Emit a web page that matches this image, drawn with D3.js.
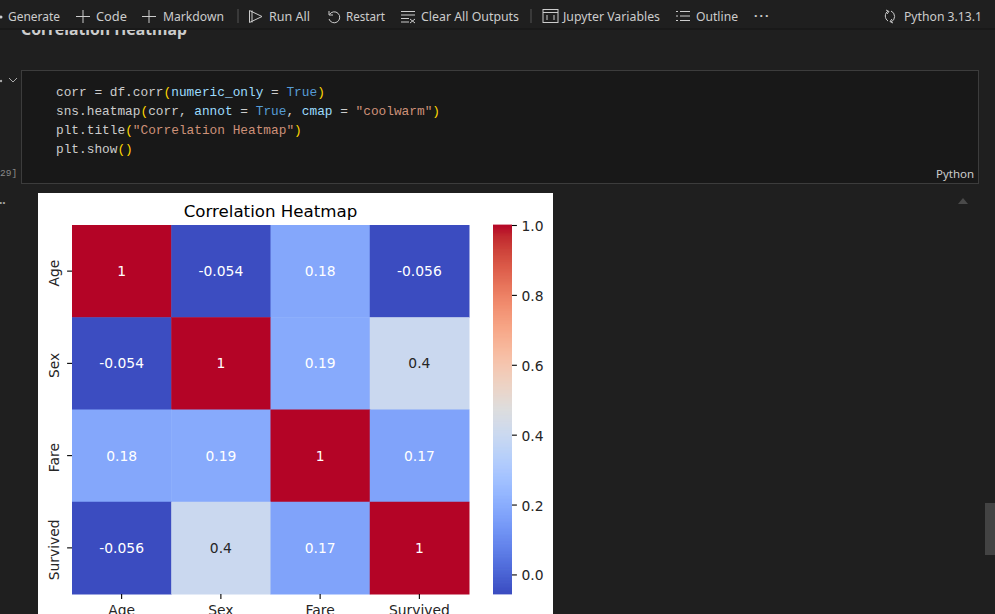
<!DOCTYPE html>
<html>
<head>
<meta charset="utf-8">
<script src="https://cdn.jsdelivr.net/npm/d3@7"></script>
<style>
html, body { margin: 0; padding: 0; background: #1f1f1f; overflow: hidden; }
svg { display: block; }
.mpl text { font-family: "DejaVu Sans", sans-serif; fill: #262626; }
.ui { font-family: "Noto Sans", "Open Sans", sans-serif; font-size: 12.5px; fill: #cccccc; }
.code { font-family: "Liberation Mono", monospace; font-size: 12.8px; fill: #cccccc; }
</style>
</head>
<body>
<script>
// chart values
var categories = ['Age', 'Sex', 'Fare', 'Survived'];
var corrValues = [
    [1, -0.054, 0.18, -0.056],
    [-0.054, 1, 0.19, 0.4],
    [0.18, 0.19, 1, 0.17],
    [-0.056, 0.4, 0.17, 1]
];
var colorbarTicks = [0, 0.2, 0.4, 0.6, 0.8, 1];
var chartTitle = 'Correlation Heatmap';

// coolwarm stops, evenly spaced
var coolwarm = ['#3b4cc0', '#445acc', '#4d68d7', '#5775e1', '#6282ea', '#6c8ef1', '#779af7', '#82a5fb',
    '#8db0fe', '#98b9ff', '#a3c2ff', '#aec9fd', '#b8d0f9', '#c2d5f4', '#ccd9ee', '#d5dbe6',
    '#dddddd', '#e5d8d1', '#ecd3c5', '#f1ccb9', '#f5c4ad', '#f7bba0', '#f7b194', '#f7a687',
    '#f49a7b', '#f18d6f', '#ec7f63', '#e57058', '#de604d', '#d55042', '#cb3e38', '#c0282f', '#b40426'];

// notebook chrome text
var toolbarLabels = ['Generate', 'Code', 'Markdown', 'Run All', 'Restart', 'Clear All Outputs', 'Jupyter Variables', 'Outline', 'Python 3.13.1'];
var toolbarX = [8, 96, 163, 269, 346, 421, 563, 696, 904];
var toolbarW = [52, 31, 61, 41, 39, 98, 97, 42, 78];
var codeLines = [
    [['corr = df.corr', '#cccccc'], ['(', '#ffd700'], ['numeric_only', '#9cdcfe'], [' = ', '#cccccc'], ['True', '#569cd6'], [')', '#ffd700']],
    [['sns.heatmap', '#cccccc'], ['(', '#ffd700'], ['corr, ', '#cccccc'], ['annot', '#9cdcfe'], [' = ', '#cccccc'], ['True', '#569cd6'], [', ', '#cccccc'], ['cmap', '#9cdcfe'], [' = ', '#cccccc'], ['"coolwarm"', '#ce9178'], [')', '#ffd700']],
    [['plt.title', '#cccccc'], ['(', '#ffd700'], ['"Correlation Heatmap"', '#ce9178'], [')', '#ffd700']],
    [['plt.show', '#cccccc'], ['()', '#ffd700']]
];

var svg = d3.select('body').append('svg').attr('width', 995).attr('height', 614);

svg.append('rect').attr('width', 995).attr('height', 614).attr('fill', '#1f1f1f');

// heading hidden behind the toolbar
svg.append('text').attr('x', 21).attr('y', 35)
    .attr('font-family', '"Noto Sans", sans-serif').attr('font-size', 15.8).attr('font-weight', 700)
    .attr('fill', '#cccccc').text(chartTitle);

// toolbar
svg.append('rect').attr('width', 995).attr('height', 28).attr('fill', '#1f1f1f');
svg.append('rect').attr('y', 28).attr('width', 995).attr('height', 2).attr('fill', '#191919');
svg.selectAll('.tb').data(toolbarLabels).enter().append('text')
    .attr('class', 'ui tb')
    .attr('x', function (d, i) { return toolbarX[i]; })
    .attr('y', 21)
    .attr('textLength', function (d, i) { return toolbarW[i]; })
    .attr('lengthAdjust', 'spacingAndGlyphs')
    .text(function (d) { return d; });

var icons = svg.append('g').attr('fill', 'none').attr('stroke', '#cccccc').attr('stroke-width', 1);
icons.append('path').attr('d', 'M83 10V23M76 16.5H90M149 10V23M142 16.5H156');
icons.append('path').attr('d', 'M238 9V23M531 9V23').attr('stroke', '#555555');
icons.append('path').attr('d', 'M249.5 10.5V22.5L262 16.5ZM252 10.5V22.5');
icons.append('path').attr('d', 'M329 11V15H333M329.5 14.5A5.5 5.5 0 1 1 329 19');
icons.append('path').attr('d', 'M401 11.5H415M401 15H415M401 18.5H409M401 22H409M410 19L415 23M415 19L410 23');
icons.append('rect').attr('x', 543).attr('y', 9.5).attr('width', 15).attr('height', 13);
icons.append('path').attr('d', 'M543 12.5H558M547 15V20M554 15V20');
icons.append('path').attr('d', 'M680 11.5H690M680 16H690M680 20.5H690M676 11.5H678M676 16H678M676 20.5H678');
icons.append('path').attr('d', 'M888 11A6 6 0 0 0 888 21M891 22A6 6 0 0 0 891 11M886 10L889 11.5L887 14M893 23L890 21.5L892 19');
svg.append('text').attr('class', 'ui').attr('x', 754).attr('y', 20).attr('font-weight', 700)
    .style('letter-spacing', '2px').text('···');
svg.append('circle').attr('cx', 1).attr('cy', 17).attr('r', 1.5).attr('fill', '#cccccc');

// code cell
svg.append('rect').attr('x', 21.5).attr('y', 70.5).attr('width', 957).attr('height', 113)
    .attr('fill', '#181818').attr('stroke', '#3c3c3c');
var codeText = svg.selectAll('.code').data(codeLines).enter().append('text')
    .attr('class', 'code')
    .attr('x', 56)
    .attr('y', function (d, i) { return 95.6 + i * 19; })
    .style('white-space', 'pre');
codeText.selectAll('tspan').data(function (d) { return d; }).enter().append('tspan')
    .attr('fill', function (d) { return d[1]; })
    .text(function (d) { return d[0]; });
svg.append('text').attr('class', 'ui').attr('x', 936).attr('y', 178)
    .style('font-size', '11.5px').text('Python');
svg.append('text').attr('x', 0).attr('y', 176).attr('font-family', '"Liberation Mono", monospace')
    .attr('font-size', 9.5).attr('fill', '#8a8a8a').text('29]');
svg.append('path').attr('d', 'M9 78L13 82L17 78').attr('fill', 'none').attr('stroke', '#aaaaaa');
svg.append('circle').attr('cx', 1).attr('cy', 81).attr('r', 1.2).attr('fill', '#aaaaaa');
svg.append('text').attr('x', -1).attr('y', 204).attr('font-family', '"Noto Sans", sans-serif')
    .attr('font-size', 12).attr('font-weight', 700).attr('fill', '#aaaaaa').text('..');
svg.append('path').attr('d', 'M958 204L963 198L968 204Z').attr('fill', '#4a4a4a');
svg.append('rect').attr('x', 985).attr('y', 503).attr('width', 10).attr('height', 52).attr('fill', '#434343');

// matplotlib figure
var fig = svg.append('g').attr('class', 'mpl');
fig.append('rect').attr('x', 38).attr('y', 193).attr('width', 515).attr('height', 421).attr('fill', '#ffffff');

var x = d3.scaleBand().domain(categories).range([72, 469]);
var y = d3.scaleBand().domain(categories).range([225, 594]);
var vmin = d3.min(corrValues, function (r) { return d3.min(r); });
var vmax = d3.max(corrValues, function (r) { return d3.max(r); });
var colorRamp = d3.scaleLinear()
    .domain(coolwarm.map(function (c, i) { return i / (coolwarm.length - 1); }))
    .range(coolwarm);
var color = d3.scaleSequential(colorRamp).domain([vmin, vmax]);

var cells = [];
corrValues.forEach(function (row, i) {
    row.forEach(function (v, j) {
        cells.push({row: categories[i], col: categories[j], value: v});
    });
});

fig.selectAll('.cell').data(cells).enter().append('rect')
    .attr('class', 'cell')
    .attr('x', function (d) { return x(d.col); })
    .attr('y', function (d) { return y(d.row); })
    .attr('width', x.bandwidth() + 0.5)
    .attr('height', y.bandwidth() + 0.5)
    .attr('fill', function (d) { return color(d.value); });

fig.selectAll('.annot').data(cells).enter().append('text')
    .attr('class', 'annot')
    .attr('x', function (d) { return x(d.col) + x.bandwidth() / 2; })
    .attr('y', function (d) { return y(d.row) + y.bandwidth() / 2; })
    .attr('dy', '0.36em')
    .attr('text-anchor', 'middle')
    .attr('font-size', 13.89)
    .style('fill', function (d) { return d.value > 0.3 && d.value < 0.7 ? '#262626' : '#ffffff'; })
    .text(function (d) { return d.value; });

var xAxis = fig.append('g').attr('transform', 'translate(0,594)')
    .call(d3.axisBottom(x).tickSize(4.9).tickSizeOuter(0));
var yAxis = fig.append('g').attr('transform', 'translate(72,0)')
    .call(d3.axisLeft(y).tickSize(4.9).tickSizeOuter(0));
[xAxis, yAxis].forEach(function (a) {
    a.select('.domain').remove();
    a.selectAll('line').attr('stroke', '#000000').attr('stroke-width', 1.1);
    a.selectAll('text').attr('font-size', 13.89).attr('font-family', '"DejaVu Sans", sans-serif');
});
xAxis.selectAll('text').attr('dy', null).attr('y', 0)
    .attr('transform', 'translate(0,21)');
yAxis.selectAll('text').attr('x', 0).attr('dy', null).attr('y', 0)
    .attr('text-anchor', 'middle')
    .attr('transform', 'translate(-13,2) rotate(-90)');

fig.append('text').attr('x', 270.5).attr('y', 217)
    .attr('text-anchor', 'middle').attr('font-size', 16.67)
    .style('fill', '#000000').text(chartTitle);

// colorbar
var cbScale = d3.scaleLinear().domain([vmin, vmax]).range([594, 225]);
var cbSteps = d3.range(vmin, vmax, (vmax - vmin) / 256);
fig.selectAll('.cb').data(cbSteps).enter().append('rect')
    .attr('class', 'cb')
    .attr('x', 493)
    .attr('width', 19)
    .attr('y', function (d) { return cbScale(d) - 369 / 256 - 0.4; })
    .attr('height', 369 / 256 + 0.8)
    .attr('fill', function (d) { return color(d); });

var cbAxis = fig.append('g').attr('transform', 'translate(512,0)')
    .call(d3.axisRight(cbScale).tickValues(colorbarTicks).tickFormat(d3.format('.1f')).tickSize(4.9));
cbAxis.select('.domain').remove();
cbAxis.selectAll('line').attr('stroke', '#000000').attr('stroke-width', 1.1);
cbAxis.selectAll('text').attr('font-size', 13.89).attr('font-family', '"DejaVu Sans", sans-serif')
    .attr('x', 9.5).attr('dy', '0.4em');
</script>
</body>
</html>
